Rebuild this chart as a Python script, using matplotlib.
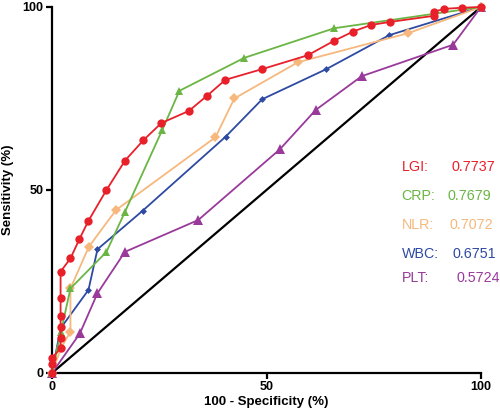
import matplotlib
matplotlib.use("Agg")
import matplotlib.pyplot as plt

# ROC points (100 - specificity, sensitivity)
lgi_x = [0, 0, 0, 2, 2, 2, 2, 2, 2, 4.3, 6.4, 8.5, 12.7, 17, 21.3, 25.5, 31.9,
         36.2, 40.4, 48.9, 59.6, 65.8, 70.2, 74.4, 78.7, 89.1, 89.1, 91.4, 95.6, 100]
lgi_y = [0, 2.5, 4, 6.8, 9.6, 12.7, 15.6, 20.5, 27.7, 31.3, 36.6, 41.6, 50, 58, 63.6, 68.3, 71.6,
         75.8, 80.1, 83, 86.8, 90.8, 93.3, 95.1, 95.9, 97.6, 98.7, 99.5, 99.8, 100]

crp_x = [0, 2.1, 4.3, 12.7, 17, 25.7, 29.7, 44.8, 65.8, 100]
crp_y = [0, 11.3, 23.1, 33.1, 44, 66.4, 77.1, 86.1, 94.2, 100]

nlr_x = [0, 2.1, 4.3, 4.3, 8.6, 14.9, 38.1, 42.5, 57.3, 82.9, 100]
nlr_y = [0, 6.8, 11.3, 23.1, 34.5, 44.5, 64.4, 75, 84.9, 92.8, 100]

wbc_x = [0, 2, 8.5, 10.6, 21.1, 40.5, 49, 63.9, 78.6, 100]
wbc_y = [0, 12.2, 22.7, 33.8, 44.3, 64.6, 74.8, 83, 92.3, 100]

plt_x = [0, 6.5, 10.6, 17, 34.1, 53.1, 61.5, 72.2, 93.5, 100]
plt_y = [0, 10.8, 21.8, 33.1, 41.8, 61.1, 71.9, 81.1, 89.7, 100]

names = ["LGI:", "CRP:", "NLR:", "WBC:", "PLT:"]
aucs = ["0.7737", "0.7679", "0.7072", "0.6751", "0.5724"]

red = "#e8202a"
green = "#6bb544"
orange = "#f6b87c"
blue = "#2e4aa3"
purple = "#993a9b"

plt.rcParams["font.family"] = ["Liberation Sans", "DejaVu Sans"]

fig = plt.figure(figsize=(5.0, 4.19), dpi=100)
ax = fig.add_axes([0.104, 0.1098, 0.858, 0.8735])

ax.plot([0, 100], [0, 100], color="black", linewidth=1.6, zorder=1)

series = [
    (plt_x, plt_y, purple, "^", 6.5),
    (wbc_x, wbc_y, blue, "D", 3.5),
    (nlr_x, nlr_y, orange, "D", 5),
    (crp_x, crp_y, green, "^", 5.5),
    (lgi_x, lgi_y, red, "o", 6),
]
for xs, ys, col, mk, ms in series:
    ax.plot(xs, ys, color=col, linewidth=1.3, marker=mk, markersize=ms,
            markeredgewidth=0, clip_on=False, zorder=3)

ax.set_xlim(0, 100)
ax.set_ylim(0, 100)
ax.set_xticks([0, 50, 100])
ax.set_yticks([0, 50, 100])
for side in ["top", "right"]:
    ax.spines[side].set_visible(False)
for side in ["left", "bottom"]:
    ax.spines[side].set_linewidth(1.6)
ax.tick_params(axis="both", length=4, width=1.6, labelsize=9, pad=2)
for lab in ax.get_xticklabels() + ax.get_yticklabels():
    lab.set_fontweight("bold")

ax.set_xlabel("100 - Specificity (%)", fontsize=9.5, fontweight="bold", labelpad=2)
ax.set_ylabel("Sensitivity (%)", fontsize=9.5, fontweight="bold", labelpad=6)

colors = [red, green, orange, blue, purple]
label_y = [167.3, 195.7, 225, 254.3, 278.3]
value_x = [451, 447.3, 450, 452.7, 456.7]
for name, auc, col, py, vx in zip(names, aucs, colors, label_y, value_x):
    fig.text(401.5 / 500, 1 - py / 419, name, color=col, fontsize=10.3, va="center", ha="left")
    fig.text(vx / 500, 1 - py / 419, auc, color=col, fontsize=10.3, va="center", ha="left")

fig.savefig("out.png", dpi=100)
